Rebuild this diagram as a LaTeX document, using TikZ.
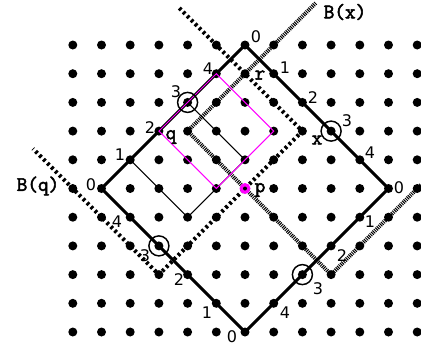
\documentclass[tikz,border=0pt]{standalone}
\usepackage{fontspec}
\newfontfamily\numfont{DejaVu Sans}
\newfontfamily\letfont[FakeBold=2.5]{Latin Modern Mono}
\definecolor{mag}{RGB}{255,0,255}
\tikzset{
  num/.style={font=\numfont\fontsize{12}{12}\selectfont, inner sep=0pt},
  lbl/.style={font=\letfont\fontsize{15.5}{15.5}\selectfont, inner sep=0pt},
  ballq/.style={line width=3pt, dash pattern=on 2pt off 2.2pt},
  ballx/.style={line width=3pt, dash pattern=on 0.75pt off 0.75pt},
  ring/.style={line width=1.1pt},
}
\begin{document}
\begin{tikzpicture}[x=0.75pt,y=0.75pt,yscale=-1,xscale=1]
\useasboundingbox (0,0) rectangle (421,351);

%Grid of points
\foreach \c in {-6,...,6}
  \foreach \r in {0,...,10}
    \fill ({245+28.7*\c},{45+28.7*\r}) circle (4.5);

%Dotted lines: B(q)
\draw [ballq] (179.3,8) -- (302.4,131.1) -- (158.9,274.6) -- (33,148.7) ;
%Dotted lines: B(x)
\draw [ballx] (315.7,3) -- (187.6,131.1) -- (331.1,274.6) -- (421,184.7) ;

%Shape: Diamond, thin
\draw [line width=0.75pt] (187.6,102.4) -- (245,159.8) -- (187.6,217.2) -- (130.2,159.8) -- cycle ;
%Shape: Diamond, thick
\draw [line width=2.25pt] (245,45) -- (388.5,188.5) -- (245,332) -- (101.5,188.5) -- cycle ;
%Shape: Diamond, magenta
\draw [color=mag, line width=0.75pt] (216.3,73.7) -- (273.7,131.1) -- (216.3,188.5) -- (158.9,131.1) -- cycle ;

%Shape: Circles
\draw [ring] (187.6,102.4) circle (10) ;
\draw [ring] (331.1,131.1) circle (10) ;
\draw [ring] (302.4,274.6) circle (10) ;
\draw [ring] (158.9,245.9) circle (10) ;

%Point p
\fill [mag] (245,188.5) circle (5.5) ;
\fill (245,188.5) circle (2) ;

% Text Node
\node [num] (t0) at (256,37) {0};
\node [num] (t1) at (285,68) {1};
\node [num] (t2) at (313,98) {2};
\node [num] (t3) at (347,121) {3};
\node [num] (t4) at (370,153) {4};
\node [num] (r0) at (399,188) {0};
\node [num] (r1) at (370,222) {1};
\node [num] (r2) at (342,256) {2};
\node [num] (r3) at (318,289) {3};
\node [num] (r4) at (285,313) {4};
\node [num] (b0) at (232,337) {0};
\node [num] (b1) at (207,313) {1};
\node [num] (b2) at (179,280) {2};
\node [num] (b3) at (145,256) {3};
\node [num] (b4) at (117,222) {4};
\node [num] (l0) at (91,185) {0};
\node [num] (l1) at (120,155) {1};
\node [num] (l2) at (150,128) {2};
\node [num] (l3) at (176,92) {3};
\node [num] (l4) at (208,69) {4};
% Text Node
\node [lbl] (lr) at (260,75) {r};
\node [lbl] (lq) at (171,137) {q};
\node [lbl] (lx) at (317,140) {x};
\node [lbl] (lp) at (260,190) {p};
\node [lbl] (lbx) at (345,12) {B(x)};
\node [lbl] (lbq) at (38,186) {B(q)};

\end{tikzpicture}
\end{document}
